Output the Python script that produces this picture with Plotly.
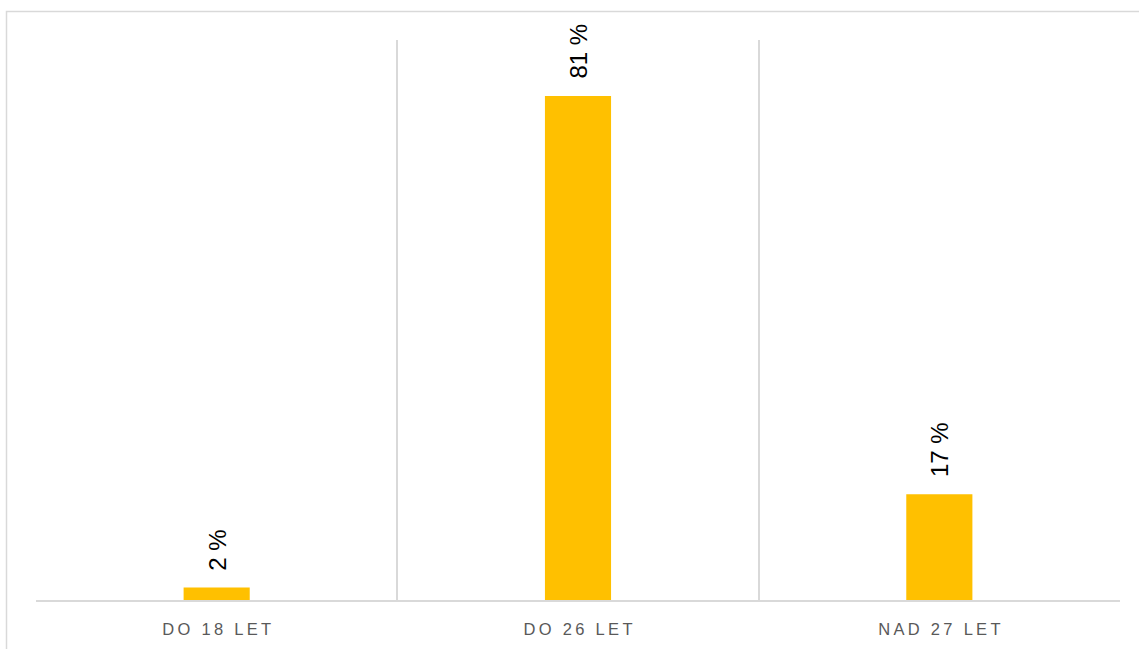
import plotly.graph_objects as go

categories = ["DO 18 LET", "DO 26 LET", "NAD 27 LET"]
values = [2, 81, 17]
value_labels = ["2 %", "81 %", "17 %"]

THIN = "\u2009"
tick_text = [THIN.join(list(c)) for c in categories]

fig = go.Figure()
fig.add_trace(go.Bar(
    x=categories, y=values,
    marker=dict(color="#FFC000", line=dict(width=0)),
    hoverinfo="skip",
))

for c, v, t in zip(categories, values, value_labels):
    fig.add_annotation(
        x=c, y=v, xref="x", yref="y", text=t, showarrow=False,
        textangle=-90, yanchor="bottom", xanchor="center", yshift=15,
        font=dict(family="Liberation Sans, Arial, sans-serif", size=24, color="#000000"),
    )

# outer chart border
fig.add_shape(type="rect", xref="paper", yref="paper",
              x0=(6.5 - 36) / 1084, x1=(1150 - 36) / 1084,
              y0=(600 - 660) / 560, y1=(600 - 11.5) / 560,
              line=dict(color="#D9D9D9", width=1.5), fillcolor="rgba(0,0,0,0)", layer="below")

fig.update_layout(
    width=1139, height=649,
    margin=dict(l=36, r=19, t=40, b=49),
    paper_bgcolor="white", plot_bgcolor="white",
    bargap=0.817,
    showlegend=False,
    xaxis=dict(
        type="category",
        tickmode="array", tickvals=categories, ticktext=tick_text,
        tickson="boundaries", showgrid=True, gridcolor="#D9D9D9", gridwidth=1.5,
        showline=True, linecolor="#D9D9D9", linewidth=1.5,
        ticks="", ticklabelstandoff=13,
        tickfont=dict(family="Liberation Sans, Arial, sans-serif", size=16.5, color="#595959"),
        fixedrange=True,
    ),
    yaxis=dict(
        range=[0, 90], showgrid=False, zeroline=False, showticklabels=False,
        showline=False, fixedrange=True,
    ),
)

fig.write_html("out.html", config={"displayModeBar": False},
               post_script="document.body.style.margin='0';document.body.style.overflow='hidden';")
